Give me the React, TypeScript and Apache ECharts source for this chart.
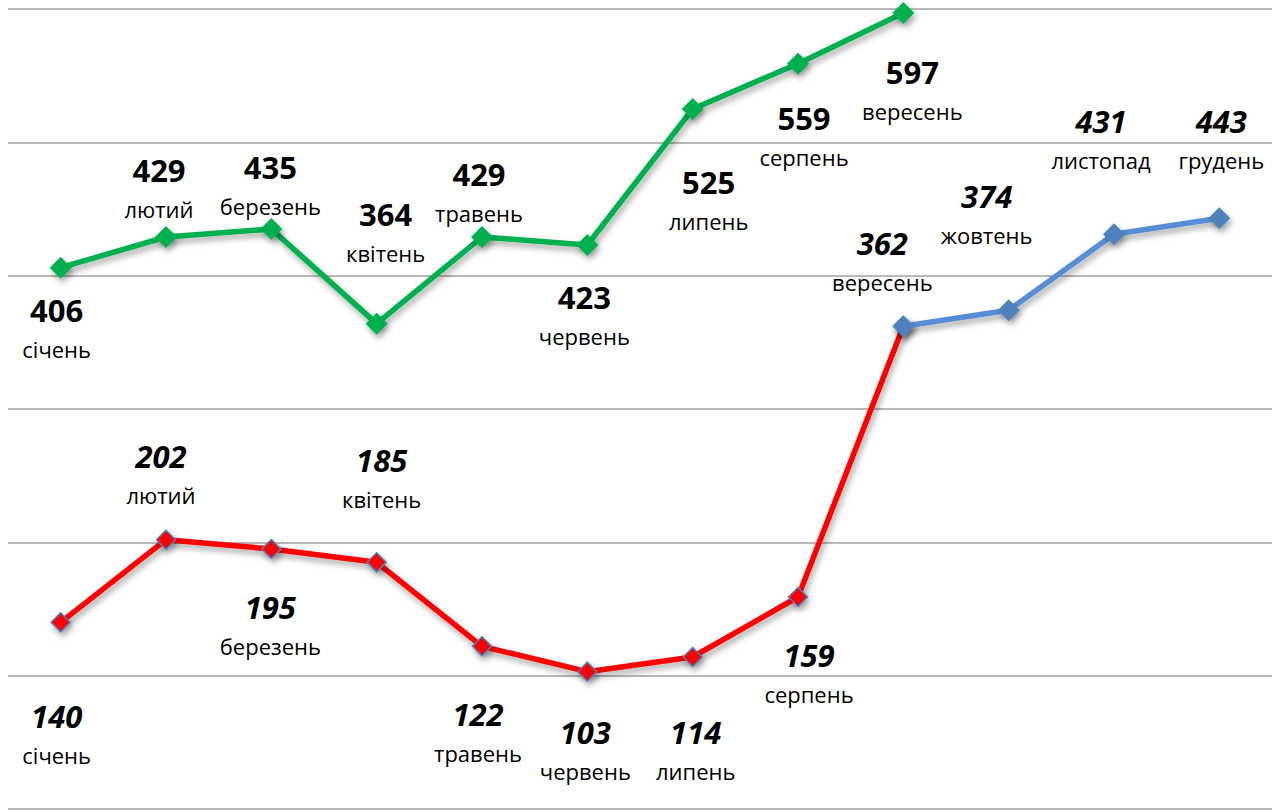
import React, { useEffect, useRef } from "react";
import * as echarts from "echarts";

const months = ["січень", "лютий", "березень", "квітень", "травень", "червень", "липень", "серпень", "вересень", "жовтень", "листопад", "грудень"];
const greenValues = [406, 429, 435, 364, 429, 423, 525, 559, 597, null, null, null];
const redValues = [140, 202, 195, 185, 122, 103, 114, 159, 362, null, null, null];
const blueValues = [null, null, null, null, null, null, null, null, 362, 374, 431, 443];

// label placement (layout only)
const greenOffsets: (number[] | null)[] = [[-4, 62], [-7, -48], [-1, -43], [9, -90], [-3, -44], [-3, 71], [16, 92], [6, 74], [9, 78], null, null, null];
const redOffsets: (number[] | null)[] = [[-4, 113], [-5, -64], [-1, 77], [5, -83], [-4, 87], [-2, 80], [3, 94], [11, 77], null, null, null, null];
const blueOffsets: (number[] | null)[] = [null, null, null, null, null, null, null, null, [-21, -64], [-22, -95], [-13, -94], [2, -78]];

const FONT = "'Open Sans', 'Noto Sans', sans-serif";

function buildData(values: (number | null)[], offsets: (number[] | null)[], italic: boolean) {
  return values.map((v, i) => {
    if (v === null) return null;
    const off = offsets[i];
    if (!off) return { value: v, label: { show: false } };
    return {
      value: v,
      label: {
        show: true,
        position: "inside",
        offset: off,
        formatter: () => `{v|${v}}\n{m|${months[i]}}`,
        rich: {
          v: { fontSize: 31, fontWeight: "bold", fontStyle: italic ? "italic" : "normal", color: "#000", lineHeight: 39, fontFamily: FONT, align: "center" },
          m: { fontSize: 22, color: "#000", lineHeight: 39, fontFamily: FONT, align: "center" },
        },
      },
    };
  });
}

const shadow = { shadowColor: "rgba(0,0,0,0.35)", shadowBlur: 6, shadowOffsetX: 2, shadowOffsetY: 4 };

export default function App() {
  const ref = useRef<HTMLDivElement>(null);
  useEffect(() => {
    if (!ref.current) return;
    const chart = echarts.init(ref.current, null, { renderer: "svg" });
    chart.setOption({
      animation: false,
      backgroundColor: "#fff",
      grid: { left: 8, right: 10, top: 9, bottom: 1, containLabel: false },
      xAxis: {
        type: "category",
        data: months,
        boundaryGap: true,
        axisLine: { show: false },
        axisTick: { show: false },
        axisLabel: { show: false },
      },
      yAxis: {
        type: "value",
        min: 0,
        max: 600,
        interval: 100,
        axisLine: { show: false },
        axisTick: { show: false },
        axisLabel: { show: false },
        splitLine: { show: true, lineStyle: { color: "#A0A0A0", width: 1.5 } },
      },
      series: [
        {
          type: "line",
          data: buildData(greenValues, greenOffsets, false),
          symbol: "diamond",
          symbolSize: 22,
          lineStyle: { color: "#00B050", width: 5.5, ...shadow },
          itemStyle: { color: "#00B050", ...shadow },
          z: 3,
        },
        {
          type: "line",
          data: buildData(redValues, redOffsets, true),
          symbol: "diamond",
          symbolSize: 19,
          lineStyle: { color: "#FF0000", width: 5.5, ...shadow },
          itemStyle: { color: "#FF0000", borderColor: "#4F81BD", borderWidth: 1.5, ...shadow },
          z: 3,
        },
        {
          type: "line",
          data: buildData(blueValues, blueOffsets, true),
          symbol: "diamond",
          symbolSize: 22,
          lineStyle: { color: "#558ED5", width: 5.5, ...shadow },
          itemStyle: { color: "#4F81BD", ...shadow },
          z: 4,
        },
      ],
    });
    return () => chart.dispose();
  }, []);
  return <div ref={ref} style={{ position: "fixed", left: 0, top: 0, width: 1282, height: 810 }} />;
}
